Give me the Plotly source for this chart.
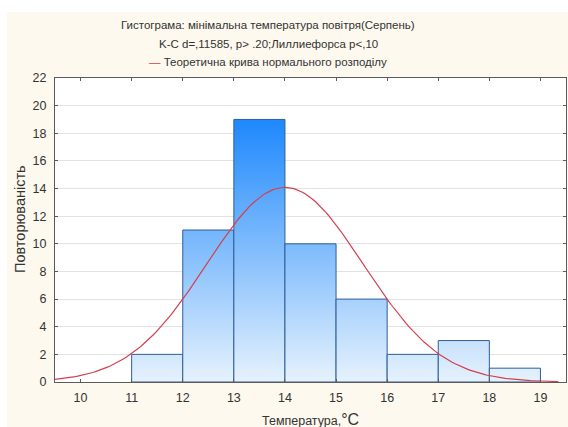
import math
import plotly.graph_objects as go

# ---- data ----
bin_left = [11, 12, 13, 14, 15, 16, 17, 18]
bin_right = [12, 13, 14, 15, 16, 17, 18, 19]
counts = [2, 11, 19, 10, 6, 2, 3, 1]
x_ticks = [10, 11, 12, 13, 14, 15, 16, 17, 18, 19]
y_ticks = [0, 2, 4, 6, 8, 10, 12, 14, 16, 18, 20, 22]
norm_mean = 14.0
norm_sd = 1.53
curve_x_start = 9.5
curve_x_end = 19.35

title_1 = "Гистограма: мінімальна температура повітря(Серпень)"
title_2 = "K-C d=,11585, p&gt; .20;Лиллиефорса p&lt;,10"
legend_text = "Теоретична крива нормального розподілу"
x_title = "Температура,<span style='font-size:16px'>°C</span>"
y_title = "Повторюваність"

FONT = "Arial, Liberation Sans, sans-serif"
TXT = "#333333"
RED = "#d2404f"

fig = go.Figure()

n_total = sum(counts)
ymax = max(counts)
for l, r, c in zip(bin_left, bin_right, counts):
    fig.add_trace(go.Scatter(
        x=[l, l, r, r, l], y=[0, c, c, 0, 0],
        mode="lines", fill="toself",
        line=dict(color="#2f5e98", width=1),
        fillgradient=dict(type="vertical",
                          colorscale=[[0, "#e6f2fd"], [1, "#1e88fd"]],
                          start=0, stop=ymax),
        hoverinfo="skip", showlegend=False,
    ))

# theoretical normal curve (expected counts per unit bin)
npts = 200
cx = [curve_x_start + (curve_x_end - curve_x_start) * i / (npts - 1) for i in range(npts)]
bw = bin_right[0] - bin_left[0]
cy = [n_total * bw / (norm_sd * math.sqrt(2 * math.pi)) *
      math.exp(-((v - norm_mean) ** 2) / (2 * norm_sd ** 2)) for v in cx]
fig.add_trace(go.Scatter(x=cx, y=cy, mode="lines",
                         line=dict(color=RED, width=1.2),
                         showlegend=False, hoverinfo="skip"))

axis_common = dict(showline=True, linecolor="#5a5a5a", linewidth=1,
                   mirror="ticks", ticks="inside", ticklen=3, tickcolor="#5a5a5a",
                   tickfont=dict(family=FONT, size=12.5, color=TXT), zeroline=False)

fig.update_xaxes(range=[9.5, 19.5], tickvals=x_ticks, showgrid=False,
                 ticklabelstandoff=4, **axis_common)
fig.update_yaxes(range=[0, 22], tickvals=y_ticks, showgrid=True,
                 gridcolor="#e2e2e2", gridwidth=1, ticklabelstandoff=5, **axis_common)

fig.update_layout(
    width=568, height=427,
    margin=dict(l=55, r=2, t=78, b=45),
    paper_bgcolor="#fdf9ee", plot_bgcolor="#ffffff",
    font=dict(family=FONT, size=12, color=TXT),
    showlegend=False,
)

# white strips at top and left like the reference frame
fig.add_shape(type="rect", xref="paper", yref="paper",
              x0=-0.2, x1=1.1, y0=(382 - 12) / 304, y1=1.4,
              fillcolor="white", line_width=0, layer="below")
fig.add_shape(type="rect", xref="paper", yref="paper",
              x0=-0.2, x1=(7 - 55) / 511, y0=-0.3, y1=1.4,
              fillcolor="white", line_width=0, layer="below")

px_title_x = (268 - 55) / 511
fig.add_annotation(text=title_1, xref="paper", yref="paper",
                   x=px_title_x, y=(382 - 25) / 304, showarrow=False,
                   xanchor="center", yanchor="middle", font=dict(size=11.5))
fig.add_annotation(text=title_2, xref="paper", yref="paper",
                   x=px_title_x, y=(382 - 44) / 304, showarrow=False,
                   xanchor="center", yanchor="middle", font=dict(size=11.5))
fig.add_annotation(text=f"<span style='color:{RED}'>—</span> " + legend_text,
                   xref="paper", yref="paper",
                   x=px_title_x, y=(382 - 62) / 304, showarrow=False,
                   xanchor="center", yanchor="middle", font=dict(size=11.5))
fig.add_annotation(text=x_title, xref="paper", yref="paper",
                   x=0.5, y=(382 - 419) / 304, showarrow=False,
                   xanchor="center", yanchor="middle", font=dict(size=12.5))
fig.add_annotation(text=y_title, xref="paper", yref="paper",
                   x=(20 - 55) / 511, y=(382 - 219) / 304, showarrow=False,
                   textangle=-90, xanchor="center", yanchor="middle",
                   font=dict(size=14.5))

fig.write_html("out.html", config={"displayModeBar": False},
               post_script="document.body.style.margin='0';document.body.style.padding='0';")
